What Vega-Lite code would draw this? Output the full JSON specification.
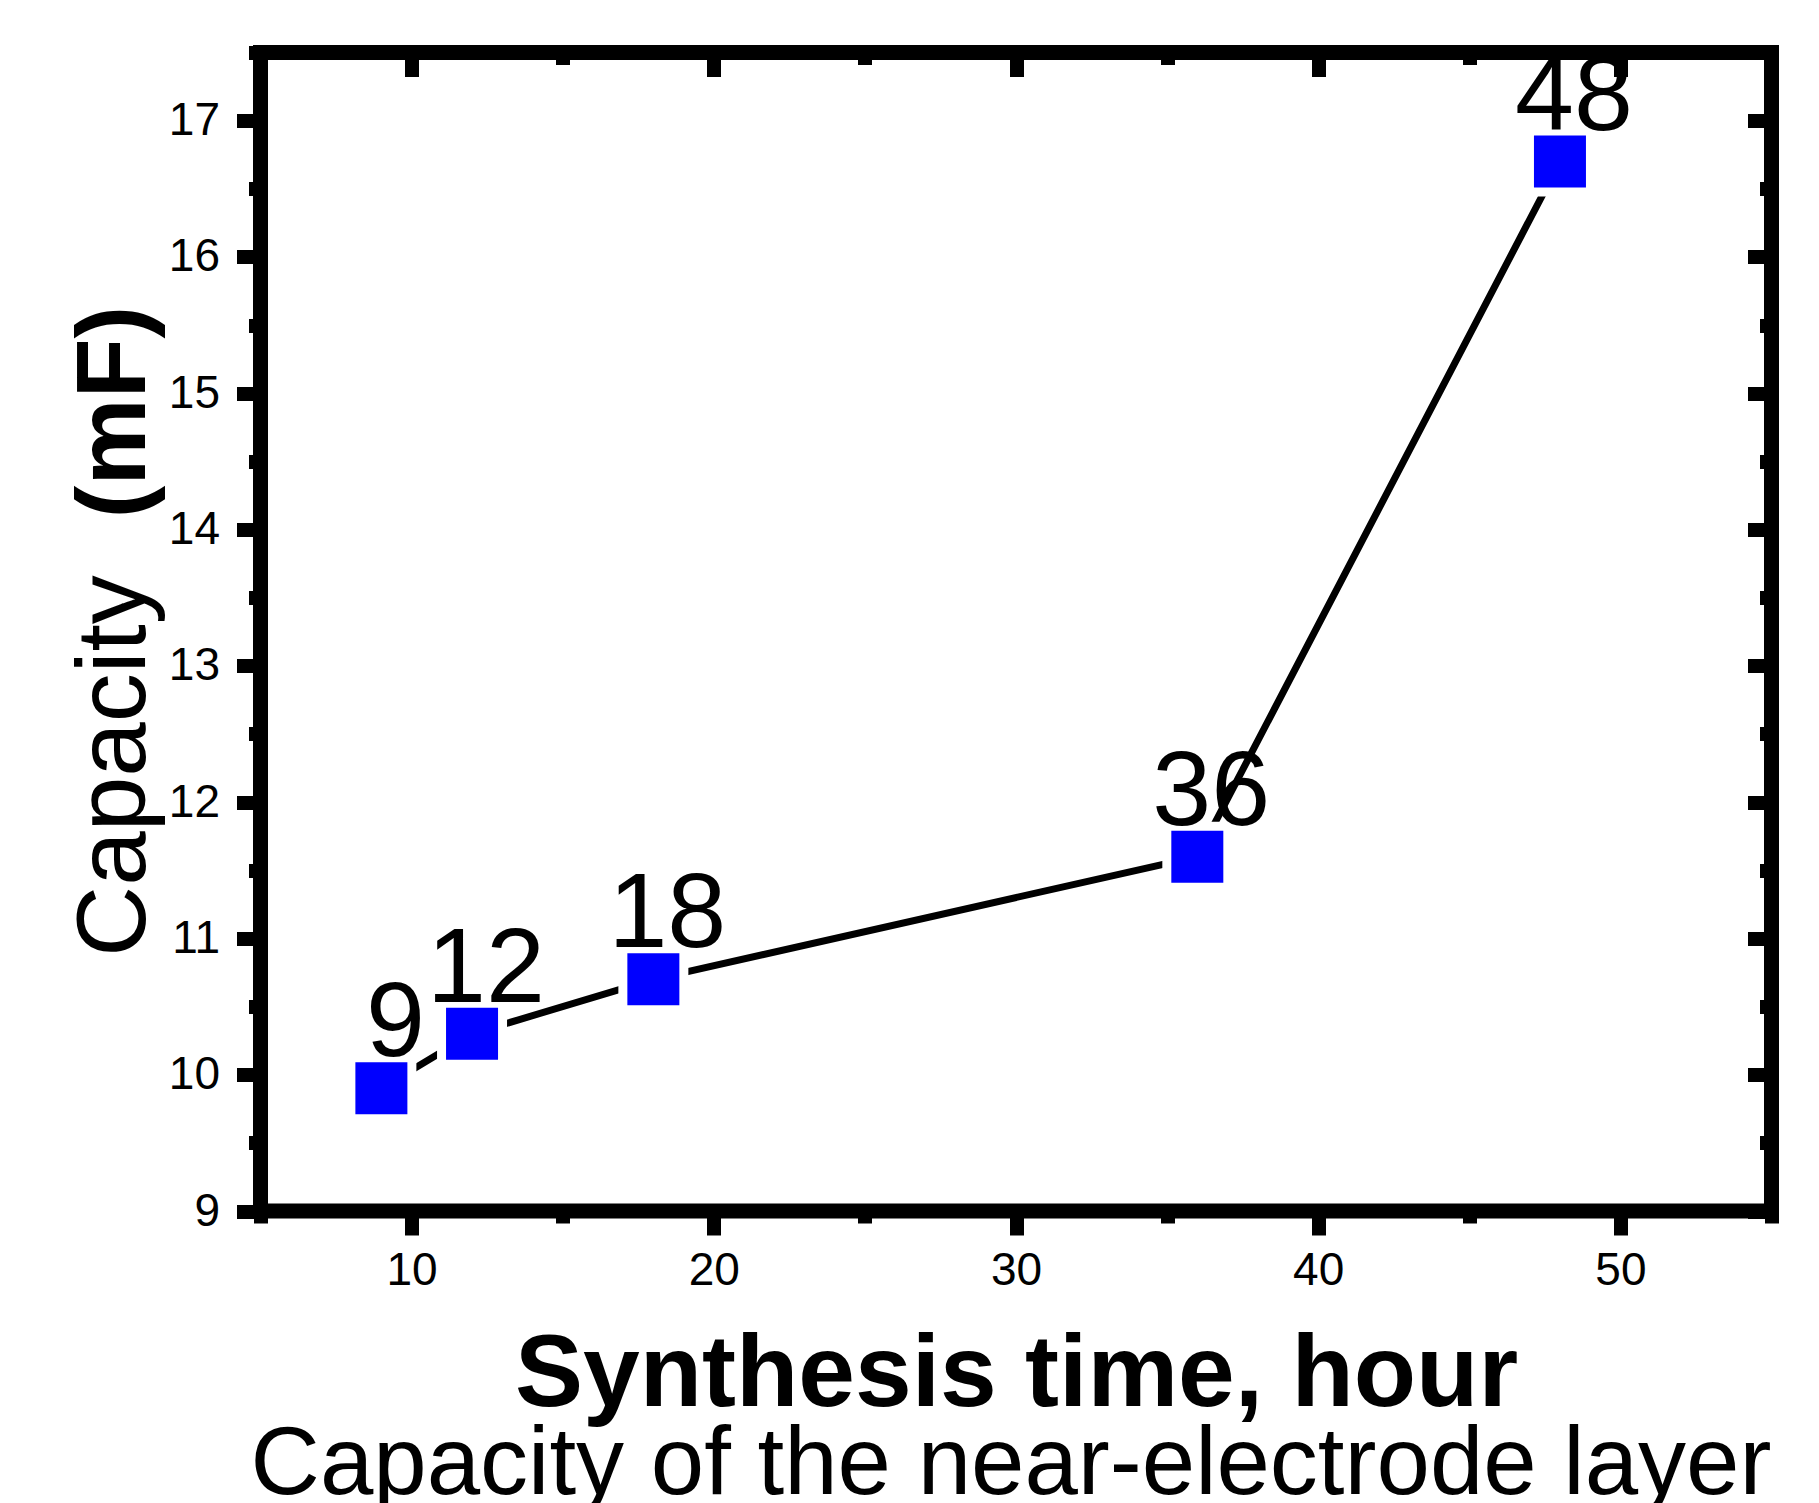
{
  "$schema": "https://vega.github.io/schema/vega-lite/v6.json",
  "autosize": {"type": "none"},
  "padding": {"left": 260.5, "top": 52.5, "right": 47.5, "bottom": 292},
  "width": 1511,
  "height": 1158.5,
  "background": "white",
  "config": {
    "view": {"stroke": "black", "strokeWidth": 15, "fill": "white"},
    "font": "Liberation Sans",
    "axis": {
      "domain": false, "grid": false,
      "tickColor": "black", "tickWidth": 14, "tickCap": "butt",
      "labelFont": "Liberation Sans", "labelFontSize": 46, "labelColor": "black",
      "labelFlush": false, "labelOverlap": false,
      "titleFont": "Liberation Sans", "titleColor": "black"
    }
  },
  "data": {"values": [
    {"time": 9, "capacity": 9.9},
    {"time": 12, "capacity": 10.3},
    {"time": 18, "capacity": 10.7},
    {"time": 36, "capacity": 11.6},
    {"time": 48, "capacity": 16.7}
  ]},
  "resolve": {"axis": {"x": "independent", "y": "independent"}},
  "layer": [
    {
      "mark": {"type": "line", "color": "black", "strokeWidth": 7},
      "encoding": {
        "x": {"field": "time", "type": "quantitative", "scale": {"domain": [5, 55], "nice": false, "zero": false},
          "axis": {"orient": "bottom", "values": [10, 20, 30, 40, 50], "tickSize": 24, "labelPadding": 13,
            "title": "Synthesis time, hour", "titleFontSize": 102, "titleFontWeight": "bold",
            "titleX": 755.5, "titleY": 194, "titleAlign": "center", "titleBaseline": "alphabetic", "titleAngle": 0}},
        "y": {"field": "capacity", "type": "quantitative", "scale": {"domain": [9, 17.5], "nice": false, "zero": false},
          "axis": {"orient": "left", "values": [9, 10, 11, 12, 13, 14, 15, 16, 17], "tickSize": 24, "labelPadding": 17,
            "title": "Capacity", "titleFontSize": 98, "titleFontWeight": "normal",
            "titleX": -116, "titleY": 713, "titleAlign": "center", "titleBaseline": "alphabetic", "titleAngle": 270}}
      }
    },
    {
      "mark": {"type": "point", "shape": "square", "filled": true, "color": "white", "opacity": 1, "size": 4900},
      "encoding": {
        "x": {"field": "time", "type": "quantitative", "scale": {"domain": [5, 55], "nice": false, "zero": false},
          "axis": {"orient": "bottom", "values": [5, 15, 25, 35, 45, 55], "tickSize": 12, "labels": false,
            "title": "Capacity of the near-electrode layer", "titleFontSize": 96, "titleFontWeight": "normal",
            "titleX": 750, "titleY": 282, "titleAlign": "center", "titleBaseline": "alphabetic", "titleAngle": 0}},
        "y": {"field": "capacity", "type": "quantitative", "scale": {"domain": [9, 17.5], "nice": false, "zero": false},
          "axis": {"orient": "left", "values": [9.5, 10.5, 11.5, 12.5, 13.5, 14.5, 15.5, 16.5, 17.5], "tickSize": 12, "labels": false,
            "title": "(mF)", "titleFontSize": 98, "titleFontWeight": "bold",
            "titleX": -116, "titleY": 359, "titleAlign": "center", "titleBaseline": "alphabetic", "titleAngle": 270}}
      }
    },
    {
      "mark": {"type": "point", "shape": "square", "filled": true, "color": "#0000ff", "opacity": 1, "size": 2704},
      "encoding": {
        "x": {"field": "time", "type": "quantitative", "scale": {"domain": [5, 55], "nice": false, "zero": false},
          "axis": {"orient": "top", "values": [10, 20, 30, 40, 50], "tickSize": -24, "labels": false, "title": null}},
        "y": {"field": "capacity", "type": "quantitative", "scale": {"domain": [9, 17.5], "nice": false, "zero": false},
          "axis": {"orient": "right", "values": [9, 10, 11, 12, 13, 14, 15, 16, 17], "tickSize": -24, "labels": false, "title": null}}
      }
    },
    {
      "mark": {"type": "text", "font": "Liberation Sans", "fontSize": 106, "color": "black", "align": "center", "baseline": "alphabetic", "dx": 14, "dy": -32},
      "encoding": {
        "x": {"field": "time", "type": "quantitative", "scale": {"domain": [5, 55], "nice": false, "zero": false},
          "axis": {"orient": "top", "values": [5, 15, 25, 35, 45, 55], "tickSize": -12, "labels": false, "title": null}},
        "y": {"field": "capacity", "type": "quantitative", "scale": {"domain": [9, 17.5], "nice": false, "zero": false},
          "axis": {"orient": "right", "values": [9.5, 10.5, 11.5, 12.5, 13.5, 14.5, 15.5, 16.5, 17.5], "tickSize": -12, "labels": false, "title": null}},
        "text": {"field": "time", "type": "quantitative"}
      }
    }
  ]
}
